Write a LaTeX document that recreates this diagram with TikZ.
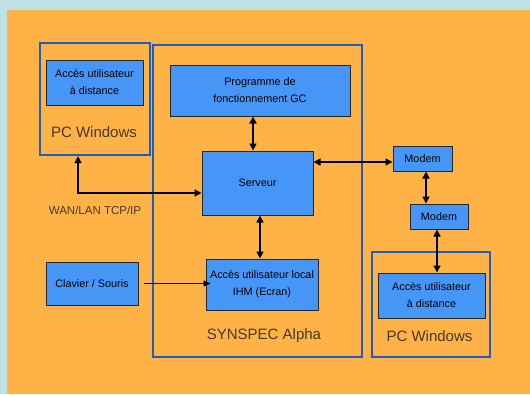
\documentclass[tikz,border=0pt]{standalone}
\usepackage{fontspec}
\setmainfont{Liberation Sans}
\usetikzlibrary{arrows.meta}

\definecolor{fond}{RGB}{190,225,230}
\definecolor{orange}{RGB}{255,178,70}
\definecolor{bleu}{RGB}{70,150,248}
\definecolor{cadre}{RGB}{30,95,190}
\definecolor{gris}{RGB}{70,58,40}

\begin{document}
\begin{tikzpicture}[x=1pt,y=-1pt,
    bloc/.style={fill=bleu,draw=black!85,line width=1pt,align=center,
      inner sep=0pt,font=\fontsize{10.8}{17}\selectfont},
    groupe/.style={draw=cadre,line width=2.2pt,inner sep=0pt},
    etiquette/.style={text=gris,font=\fontsize{15}{17}\selectfont},
    dbl/.style={{Triangle[length=7pt,width=7pt]}-{Triangle[length=7pt,width=7pt]},line width=1.6pt},
    simple/.style={-{Triangle[length=7pt,width=6pt]},line width=0.9pt}]
      \useasboundingbox (0,0) rectangle (530,394);
      \fill[fond] (0,0) rectangle (530,394);
      \fill[orange] (7,10) rectangle (530,394);
      % groupes
      \draw
        (95,99) node[groupe,minimum width=110,minimum height=112] (pcL){}
        (257.5,201) node[groupe,minimum width=209,minimum height=312] (synspec){}
        (431,304.5) node[groupe,minimum width=118,minimum height=105] (pcR){};
      % blocs
      \draw
        (94.5,82.5) node[bloc,minimum width=97,minimum height=45] (distL){Accès utilisateur\\à distance}
        (260,90.5) node[bloc,minimum width=180,minimum height=51] (prog){Programme de\\fonctionnement GC}
        (257.5,183) node[bloc,minimum width=111,minimum height=64] (serveur){Serveur}
        (262,284.5) node[bloc,minimum width=112,minimum height=51] (local){Accès utilisateur local\\IHM (Ecran)}
        (92,283.5) node[bloc,minimum width=92,minimum height=43] (clavier){Clavier / Souris}
        (422.5,158.5) node[bloc,minimum width=59,minimum height=25] (modemA){Modem}
        (439,216.5) node[bloc,minimum width=58,minimum height=25] (modemB){Modem}
        (431.5,295.5) node[bloc,minimum width=107,minimum height=45] (distR){Accès utilisateur\\à distance};
      % etiquettes
      \draw
        (94,132) node[etiquette] (txtL){PC Windows}
        (264,336) node[etiquette] (txtS){SYNSPEC Alpha}
        (429.5,336) node[etiquette] (txtR){PC Windows}
        (95,210) node[etiquette,font=\fontsize{11.5}{13}\selectfont] (wan){WAN/LAN TCP/IP};
      \begin{scope}
        \draw[dbl] ([xshift=-7]prog.south) -- ([xshift=-7]prog.south |- serveur.north);
        \draw[dbl] ([xshift=2.5]serveur.south) -- ([xshift=2.5]serveur.south |- local.north);
        \draw[dbl] ([yshift=21]serveur.east) -- ([yshift=21]serveur.east -| modemA.west);
        \draw[dbl] ([xshift=3.5]modemA.south) -- ([xshift=3.5]modemA.south |- modemB.north);
        \draw[dbl] ([xshift=-2]modemB.south) -- ([xshift=-2]modemB.south |- distR.north);
        \draw[dbl] ([xshift=-17]pcL.south) |- ([yshift=-10]serveur.west);
        \draw[simple] ([xshift=5]clavier.east) -- ([xshift=5]clavier.east -| local.west);
      \end{scope}
\end{tikzpicture}
\end{document}
